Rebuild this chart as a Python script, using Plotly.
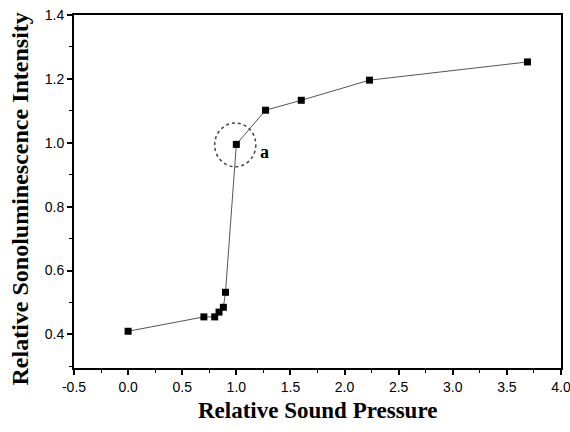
import plotly.graph_objects as go

pressure = [0.0, 0.70, 0.80, 0.84, 0.88, 0.90, 1.00, 1.27, 1.60, 2.23, 3.69]
intensity = [0.41, 0.455, 0.455, 0.47, 0.485, 0.532, 0.995, 1.102, 1.133, 1.196, 1.253]

x_ticks = [-0.5, 0.0, 0.5, 1.0, 1.5, 2.0, 2.5, 3.0, 3.5, 4.0]
y_ticks = [0.4, 0.6, 0.8, 1.0, 1.2, 1.4]

fig = go.Figure()
fig.add_trace(go.Scatter(
    x=pressure, y=intensity, mode="lines+markers",
    line=dict(color="#555555", width=1),
    marker=dict(symbol="square", size=7, color="black"),
    showlegend=False,
))

fig.add_shape(type="circle", xref="x", yref="y",
              x0=0.80, x1=1.18, y0=0.925, y1=1.062,
              line=dict(color="#444444", width=1.5, dash="dot"))
fig.add_annotation(x=1.26, y=0.972, text="<b>a</b>", showarrow=False,
                   font=dict(family="Liberation Serif", size=18, color="black"))

title_font = dict(family="Liberation Serif", size=23, color="black")
fig.add_annotation(xref="paper", yref="paper", x=0.5, y=-0.119,
                   text="<b>Relative Sound Pressure</b>", showarrow=False,
                   xanchor="center", yanchor="middle", font=title_font)
fig.add_annotation(xref="paper", yref="paper", x=-0.111, y=0.48,
                   text="<b>Relative Sonoluminescence Intensity</b>", showarrow=False,
                   textangle=-90, xanchor="center", yanchor="middle",
                   font=dict(family="Liberation Serif", size=24, color="black"))

axis_common = dict(
    showgrid=False, zeroline=False, showline=True, linecolor="black", linewidth=2,
    mirror=True, ticks="outside", ticklen=5, tickwidth=1.5, tickcolor="black",
    tickfont=dict(family="Liberation Sans", size=14, color="black"),
    ticklabeloverflow="allow",
    minor=dict(ticks="outside", ticklen=3, tickwidth=1, tickcolor="black"),
)

fig.update_xaxes(range=[-0.5, 4.0], tickvals=x_ticks,
                 ticktext=[f"{v:.1f}" for v in x_ticks],
                 minor_dtick=0.25, **axis_common)
fig.update_yaxes(range=[0.295, 1.4], tickvals=y_ticks,
                 ticktext=[f"{v:.1f}" for v in y_ticks],
                 minor_dtick=0.1, **axis_common)

fig.update_layout(
    width=570, height=432,
    margin=dict(l=74, r=9, t=15, b=64, autoexpand=False),
    plot_bgcolor="white", paper_bgcolor="white",
)

fig.write_html("out.html", config={"displayModeBar": False},
               post_script="document.body.style.margin='0';")
